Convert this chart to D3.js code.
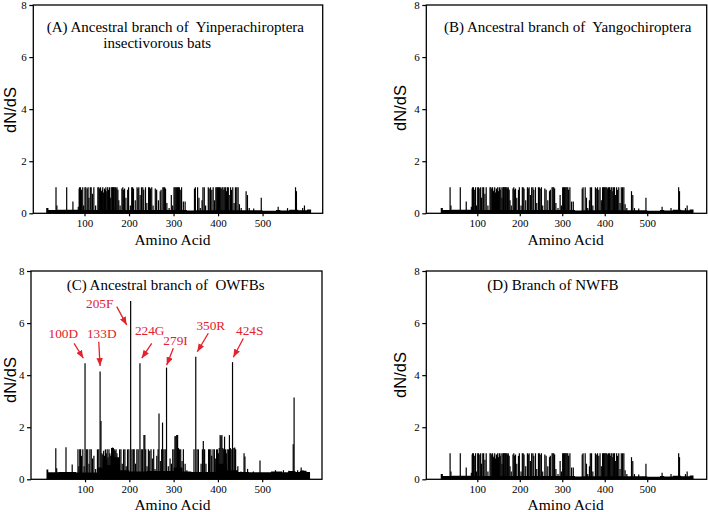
<!DOCTYPE html>
<html><head><meta charset="utf-8">
<script src="https://cdn.jsdelivr.net/npm/d3@7"></script>
<style>body{margin:0;background:#fff}svg{display:block}</style>
</head><body>
<svg id="chart" width="708" height="512"></svg>
<script>
// ---------- DATA ----------
const yTickValues = [0, 2, 4, 6, 8];
const xTickValues = [100, 200, 300, 400, 500];

// Profile shared by panels A, B and D (sites and dN/dS of peaks)
const bgSpikeSites = [
  36, 38, 60, 74, 86, 88, 89, 91, 93, 96,
  98, 101, 103, 106, 108, 110, 113, 115, 118, 121,
  125, 130, 132, 134, 136, 138, 140, 141, 143, 145,
  147, 148, 150, 152, 154, 156, 158, 160, 162, 163,
  165, 166, 168, 170, 171, 173, 175, 177, 180, 184,
  186, 188, 190, 193, 197, 199, 203, 206, 208, 210,
  214, 218, 220, 222, 225, 228, 231, 233, 237, 240,
  244, 246, 248, 251, 254, 259, 262, 266, 270, 272,
  276, 278, 280, 282, 285, 290, 295, 298, 301, 303,
  305, 307, 309, 311, 313, 315, 318, 322, 326, 347,
  349, 354, 357, 360, 364, 366, 369, 372, 378, 380,
  383, 386, 389, 392, 395, 397, 399, 401, 403, 405,
  407, 409, 411, 413, 415, 417, 419, 421, 423, 425,
  428, 430, 433, 436, 439, 442, 445, 448, 452, 463,
  466, 470, 480, 497, 535, 556, 574, 576, 590, 594
];
const bgSpikeValues = [
  1.0, 0.3, 1.0, 0.45, 0.25, 0.95, 1.0, 1.0, 0.9, 1.0,
  0.3, 1.0, 1.0, 0.95, 1.0, 0.6, 1.0, 1.0, 0.75, 1.0,
  0.3, 1.0, 1.0, 0.95, 1.0, 0.85, 0.9, 1.0, 0.8, 0.95,
  0.9, 1.0, 0.85, 1.0, 0.9, 1.0, 0.6, 1.0, 1.0, 1.0,
  1.0, 1.0, 1.0, 1.0, 0.95, 1.0, 0.9, 0.5, 0.3, 0.95,
  1.0, 0.9, 0.95, 0.6, 0.9, 1.0, 0.3, 1.0, 1.0, 0.95,
  0.5, 1.0, 0.95, 1.0, 0.7, 1.0, 1.0, 0.9, 1.0, 0.4,
  1.0, 1.0, 0.95, 1.0, 0.3, 0.95, 0.9, 0.5, 0.85, 0.9,
  1.0, 1.0, 1.0, 0.95, 0.4, 0.2, 0.7, 0.3, 1.0, 1.0,
  1.0, 1.0, 1.0, 1.0, 1.0, 0.9, 1.0, 0.45, 0.45, 0.95,
  1.0, 1.0, 0.6, 0.2, 0.5, 1.0, 1.0, 0.3, 1.0, 0.95,
  1.0, 0.9, 1.0, 0.5, 1.0, 1.0, 1.0, 1.0, 1.0, 1.0,
  0.95, 1.0, 1.0, 0.9, 1.0, 1.0, 0.85, 1.0, 1.0, 0.7,
  1.0, 0.9, 1.0, 0.4, 1.0, 1.0, 1.0, 0.35, 0.2, 0.85,
  0.7, 0.2, 0.18, 0.6, 0.25, 0.2, 1.0, 0.85, 0.2, 0.3
];
// background level (step change points)
const bgBaseSites  = [14, 19, 40, 85, 330, 346, 450, 500, 530, 540, 560, 580, 600, 609];
const bgBaseValues = [0.2, 0.13, 0.14, 0.13, 0.11, 0.12, 0.12, 0.1, 0.13, 0.11, 0.14, 0.12, 0.15, 0.12];

// Profile of panel C (ancestral branch of OWFBs)
const owfbSpikeSites = [
  34, 36, 57, 71, 84, 86, 88, 90, 92, 95,
  98, 100, 103, 106, 109, 111, 114, 117, 120, 124,
  128, 131, 134, 136, 138, 140, 142, 144, 146, 148,
  150, 152, 154, 156, 158, 160, 162, 164, 166, 168,
  170, 172, 174, 178, 181, 184, 187, 190, 193, 196,
  199, 203, 206, 209, 211, 214, 217, 220, 224, 227,
  230, 233, 235, 237, 240, 243, 246, 249, 252, 255,
  258, 262, 265, 267, 270, 273, 275, 278, 281, 284,
  288, 292, 295, 298, 301, 303, 305, 307, 309, 311,
  313, 316, 319, 322, 326, 330, 346, 350, 353, 356,
  362, 365, 367, 370, 373, 379, 381, 384, 386, 389,
  392, 395, 397, 399, 401, 403, 405, 407, 409, 411,
  413, 415, 417, 419, 421, 424, 426, 428, 430, 433,
  436, 438, 440, 445, 452, 459, 461, 467, 480, 495,
  530, 548, 560, 570, 572, 580, 588, 592
];
const owfbSpikeValues = [
  1.19, 0.42, 1.23, 0.57, 1.15, 0.5, 1.15, 1.15, 0.9, 1.15,
  0.5, 4.46, 1.15, 1.15, 0.6, 1.15, 1.15, 0.8, 0.9, 0.4,
  1.15, 1.15, 4.14, 2.24, 1.0, 0.95, 1.1, 0.9, 1.15, 1.0,
  1.15, 0.85, 1.15, 1.0, 0.9, 1.2, 1.22, 1.2, 1.15, 1.1,
  1.15, 1.0, 0.8, 1.15, 1.15, 0.6, 1.15, 1.15, 0.5, 1.15,
  1.15, 6.85, 1.15, 1.15, 1.15, 0.6, 1.15, 1.15, 4.46, 1.15,
  1.15, 1.7, 1.7, 1.15, 0.5, 1.15, 1.1, 1.15, 0.8, 1.15,
  0.4, 0.9, 1.15, 2.53, 0.7, 1.15, 2.18, 1.15, 1.15, 4.29,
  0.5, 0.8, 0.6, 1.15, 1.15, 1.65, 1.66, 1.7, 1.7, 1.2,
  1.15, 1.15, 0.7, 1.15, 0.6, 0.35, 1.15, 4.71, 1.15, 1.15,
  0.6, 1.15, 1.47, 1.15, 0.6, 1.15, 1.15, 1.15, 0.9, 1.15,
  1.15, 0.8, 1.15, 1.15, 1.0, 1.2, 1.7, 1.65, 1.7, 1.2,
  1.15, 1.64, 1.15, 1.0, 1.15, 1.15, 1.7, 1.2, 1.15, 4.5,
  1.2, 1.22, 1.15, 0.5, 0.3, 1.0, 0.88, 0.4, 0.3, 0.72,
  0.35, 0.35, 0.33, 1.35, 3.14, 0.35, 0.45, 0.35
];
const owfbBaseSites  = [13, 17, 40, 80, 130, 140, 150, 160, 178, 200, 240, 300, 320, 340, 395, 420, 445, 470, 520, 545, 560, 575, 585, 600, 608];
const owfbBaseValues = [0.38, 0.27, 0.28, 0.26, 0.45, 0.75, 0.55, 0.85, 0.35, 0.3, 0.32, 0.45, 0.3, 0.28, 0.6, 0.35, 0.28, 0.27, 0.3, 0.27, 0.32, 0.28, 0.33, 0.28, 0.28];

// Annotations in panel C
const annLabels     = ["100D", "133D", "205F", "224G", "279I", "350R", "424S"];
const annLabelSite  = [51, 137.7, 133.2, 246, 304.3, 384, 471.8];
const annLabelValue = [5.41, 5.41, 6.57, 5.54, 5.16, 5.73, 5.54];
const annTailSite   = [75.2, 131, 171.6, 250.6, 299.3, 378.3, 457.3];
const annTailValue  = [5.22, 5.28, 6.63, 5.22, 5.03, 5.61, 5.41];
const annTipSite    = [96.2, 133.9, 194, 228, 284.4, 353.5, 434.8];
const annTipValue   = [4.65, 4.35, 5.93, 4.65, 4.39, 4.9, 4.69];

const panelTitles = [
  ["(A) Ancestral branch of  Yinperachiroptera", "insectivorous bats"],
  ["(B) Ancestral branch of  Yangochiroptera"],
  ["(C) Ancestral branch of  OWFBs"],
  ["(D) Branch of NWFB"]
];
const yLabel = "dN/dS";
const xLabel = "Amino Acid";

// ---------- LAYOUT ----------
const serif = "'Liberation Serif','Times New Roman',serif";
const sans = "'Liberation Sans',Arial,sans-serif";
const red = "#e3222b";

const bgProfile = {spS: bgSpikeSites, spV: bgSpikeValues, bS: bgBaseSites, bV: bgBaseValues};
const owfbProfile = {spS: owfbSpikeSites, spV: owfbSpikeValues, bS: owfbBaseSites, bV: owfbBaseValues};

const panels = [
  {prof: bgProfile, title: panelTitles[0], l: 33.3, r: 322.7, t: 5, b: 213.3, xd: [-15, 635],
   tx: [46.7, 103.3], ty: [31.7, 48.3], ylx: 15.5, yly: 110, xlx: 172.5, xly: 245},
  {prof: bgProfile, title: panelTitles[1], l: 426.3, r: 706.7, t: 5, b: 213.3, xd: [-20, 640],
   tx: [444], ty: [31.7], ylx: 405.5, yly: 108, xlx: 565.7, xly: 245},
  {prof: owfbProfile, title: panelTitles[2], l: 31, r: 322, t: 271, b: 479.3, xd: [-22, 635],
   tx: [66.7], ty: [290], ylx: 15.5, yly: 380, xlx: 172.5, xly: 509.5, ann: true},
  {prof: bgProfile, title: panelTitles[3], l: 426.3, r: 706.7, t: 271, b: 479.3, xd: [-20, 640],
   tx: [487.3], ty: [290], ylx: 405.5, yly: 375, xlx: 565.7, xly: 509.5}
];

const svg = d3.select("#chart");
const defs = svg.append("defs");
defs.append("marker").attr("id", "arrow")
  .attr("viewBox", "0 0 10 8").attr("refX", 10).attr("refY", 4)
  .attr("markerUnits", "userSpaceOnUse").attr("markerWidth", 8).attr("markerHeight", 6.5)
  .attr("orient", "auto")
  .append("path").attr("d", "M0,0 L10,4 L0,8 Z").attr("fill", red);

panels.forEach(p => {
  const x = d3.scaleLinear().domain(p.xd).range([p.l, p.r]);
  const y = d3.scaleLinear().domain([0, 8]).range([p.b, p.t]);
  const g = svg.append("g");

  // background band
  const base = p.prof.bS.map((s, i) => ({s, v: p.prof.bV[i]}));
  g.append("path").datum(base)
    .attr("d", d3.area().x(d => x(d.s)).y0(y(0)).y1(d => y(d.v)).curve(d3.curveStepAfter))
    .attr("fill", "#000");

  // spikes
  const spikes = p.prof.spS.map((s, i) => ({s, v: p.prof.spV[i]}));
  g.selectAll("line.spike").data(spikes).join("line")
    .attr("class", "spike")
    .attr("x1", d => x(d.s)).attr("x2", d => x(d.s))
    .attr("y1", y(0)).attr("y2", d => y(d.v))
    .attr("stroke", "#000").attr("stroke-width", 1.2);

  // frame
  g.append("rect").attr("x", p.l).attr("y", p.t)
    .attr("width", p.r - p.l).attr("height", p.b - p.t)
    .attr("fill", "none").attr("stroke", "#000").attr("stroke-width", 1.3);

  // axes
  const ya = g.append("g").attr("transform", `translate(${p.l},0)`)
    .call(d3.axisLeft(y).tickValues(yTickValues).tickSize(4).tickSizeOuter(0).tickPadding(2.5).tickFormat(d3.format("d")));
  const xa = g.append("g").attr("transform", `translate(0,${p.b})`)
    .call(d3.axisBottom(x).tickValues(xTickValues).tickSize(3).tickSizeOuter(0).tickPadding(3).tickFormat(d3.format("d")));
  [ya, xa].forEach(a => {
    a.select(".domain").remove();
    a.selectAll(".tick line").attr("stroke", "#000").attr("stroke-width", 1.2);
    a.selectAll(".tick text").attr("font-family", serif).attr("font-size", 11).attr("fill", "#000");
  });

  // titles
  p.title.forEach((t, i) => {
    g.append("text").attr("x", p.tx[i]).attr("y", p.ty[i])
      .attr("font-family", serif).attr("font-size", 15).attr("fill", "#000")
      .style("white-space", "pre").text(t);
  });

  // axis labels
  g.append("text").attr("transform", `translate(${p.ylx},${p.yly}) rotate(-90)`)
    .attr("text-anchor", "middle").attr("font-family", sans).attr("font-size", 16.5)
    .attr("fill", "#000").text(yLabel);
  g.append("text").attr("x", p.xlx).attr("y", p.xly)
    .attr("text-anchor", "middle").attr("font-family", serif).attr("font-size", 15.5)
    .attr("fill", "#000").text(xLabel);

  // annotations
  if (p.ann) {
    const ann = annLabels.map((lab, i) => ({lab, lx: annLabelSite[i], ly: annLabelValue[i],
      ax: annTailSite[i], ay: annTailValue[i], bx: annTipSite[i], by: annTipValue[i]}));
    g.selectAll("text.ann").data(ann).join("text").attr("class", "ann")
      .attr("x", d => x(d.lx)).attr("y", d => y(d.ly))
      .attr("text-anchor", "middle").attr("font-family", serif).attr("font-size", 13.3)
      .attr("fill", red).text(d => d.lab);
    g.selectAll("line.arr").data(ann).join("line").attr("class", "arr")
      .attr("x1", d => x(d.ax)).attr("y1", d => y(d.ay))
      .attr("x2", d => x(d.bx)).attr("y2", d => y(d.by))
      .attr("stroke", red).attr("stroke-width", 1.3).attr("marker-end", "url(#arrow)");
  }
});
</script>
</body></html>
